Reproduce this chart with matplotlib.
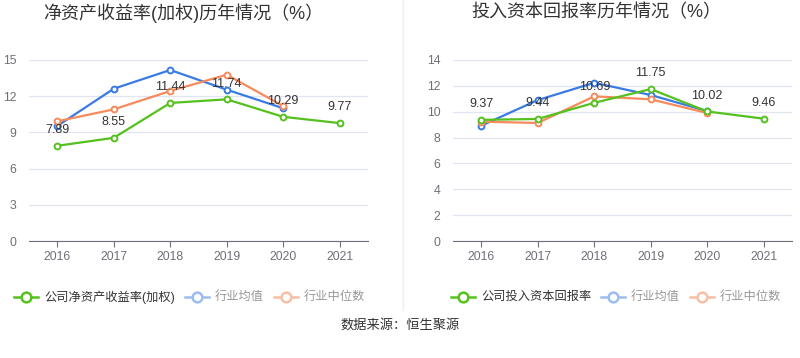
import matplotlib as mpl
mpl.use("Agg")
import matplotlib.pyplot as plt
from matplotlib.lines import Line2D

plt.rcParams['font.family'] = ['Liberation Sans', 'Noto Sans CJK SC', 'DejaVu Sans']

years = ["2016", "2017", "2018", "2019", "2020", "2021"]

# left: weighted ROE
roe_company = [7.89, 8.55, 11.44, 11.74, 10.29, 9.77]
roe_ind_avg = [9.53, 12.62, 14.17, 12.54, 11.00]
roe_ind_med = [9.92, 10.91, 12.43, 13.78, 11.18]

# right: ROIC
roic_company = [9.37, 9.44, 10.69, 11.75, 10.02, 9.46]
roic_ind_avg = [8.92, 10.90, 12.24, 11.29, 10.05]
roic_ind_med = [9.23, 9.13, 11.19, 10.96, 9.90]

GREEN = "#55c11e"
BLUE = "#3a7be2"
ORANGE = "#f78a5c"
W, H = 800, 358

fig = plt.figure(figsize=(8, 3.58), dpi=100)


def px_axes(x0, y_top, w, h):
  return fig.add_axes([x0 / W, (H - y_top - h) / H, w / W, h / H])


def draw_panel(ax, company, avg, med, ymax, step):
  xs = list(range(len(years)))
  kw = dict(linewidth=1.6, marker="o", markersize=4.2, markerfacecolor="white",
            markeredgewidth=1.4, solid_joinstyle="round")
  ax.plot(xs[:len(avg)], avg, color=BLUE, zorder=3, **kw)
  ax.plot(xs[:len(med)], med, color=ORANGE, zorder=3, **kw)
  ax.plot(xs, company, color=GREEN, zorder=4, **kw)
  for x, v in zip(xs, company):
    ax.annotate("%.2f" % v, (x, v), xytext=(0, 7), textcoords="offset points",
                ha="center", va="bottom", fontsize=9, color="#333333", zorder=5)
  ax.set_xlim(-0.5, len(years) - 0.5)
  ax.set_ylim(0, ymax)
  ax.set_yticks(range(0, ymax + 1, step))
  ax.set_xticks(xs)
  ax.set_xticklabels(years)
  ax.grid(axis="y", color="#e0e6f1", linewidth=0.9)
  ax.set_axisbelow(True)
  for s in ["top", "right", "left"]:
    ax.spines[s].set_visible(False)
  ax.spines["bottom"].set_color("#6e7079")
  ax.tick_params(axis="x", length=4, color="#6e7079", labelcolor="#6e7079",
                 labelsize=8.8, pad=3)
  ax.tick_params(axis="y", length=0, labelcolor="#6e7079", labelsize=8.8, pad=9)


ax1 = px_axes(29, 60, 339, 181)
draw_panel(ax1, roe_company, roe_ind_avg, roe_ind_med, 15, 3)
ax2 = px_axes(453, 60, 339, 181)
draw_panel(ax2, roic_company, roic_ind_avg, roic_ind_med, 14, 2)

# titles
fig.text(183 / W, 1 - 13 / H, "净资产收益率(加权)历年情况（%）", ha="center", va="center",
         fontsize=13, color="#333333")
fig.text(596 / W, 1 - 13 / H, "投入资本回报率历年情况（%）", ha="center", va="center",
         fontsize=13, color="#333333")

# divider
fig.add_artist(Line2D([403 / W, 403 / W], [1 - 310 / H, 1], color="#eeeeee", linewidth=1))


def legend_item(x_icon, label, color, text_color):
  y = 1 - 297 / H
  fig.add_artist(Line2D([x_icon / W, (x_icon + 24) / W], [y, y], color=color, linewidth=1.8))
  fig.add_artist(Line2D([(x_icon + 12) / W], [y], color=color, marker="o", markersize=7,
                        markerfacecolor="white", markeredgewidth=1.8))
  fig.text((x_icon + 30) / W, y, label, ha="left", va="center", fontsize=8.8, color=text_color)


LBLUE = "#9dbcf2"
LORANGE = "#f9bfa6"
legend_item(14, "公司净资产收益率(加权)", GREEN, "#333333")
legend_item(185, "行业均值", LBLUE, "#999999")
legend_item(274, "行业中位数", LORANGE, "#999999")
legend_item(451, "公司投入资本回报率", GREEN, "#333333")
legend_item(601, "行业均值", LBLUE, "#999999")
legend_item(690, "行业中位数", LORANGE, "#999999")

fig.text(400 / W, 1 - 325 / H, "数据来源：恒生聚源", ha="center", va="center",
         fontsize=9.5, color="#333333")

fig.savefig("out.png", dpi=100)
